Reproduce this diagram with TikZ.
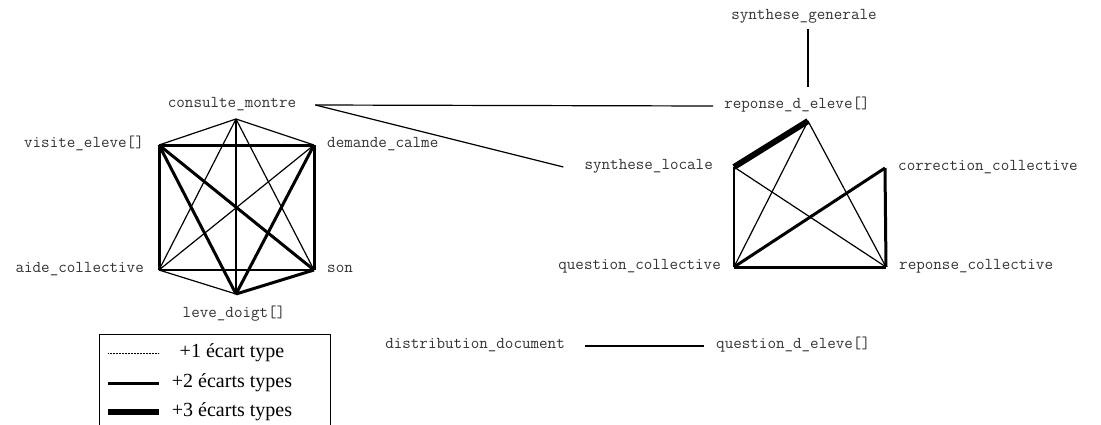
\documentclass[tikz,border=0pt]{standalone}
\usepackage{fontspec}
\setmainfont{Liberation Serif}
\usetikzlibrary{positioning}

\begin{document}
\begin{tikzpicture}[x=1pt,y=-1pt,
  lbl/.style={font=\ttfamily\fontsize{16.6}{19}\selectfont,text=black!80,text height=0.45em,text depth=0pt},
  leg/.style={font=\fontsize{20}{24}\selectfont},
  ecart1/.style={line width=1.2pt},
  ecart2/.style={line width=3pt},
  ecart3/.style={line width=6pt},
  line join=round]
\tikzstyle{every node}+=[inner sep=0pt]
\useasboundingbox (0,0) rectangle (1101,424);
% premier groupe
\coordinate (cmv) at (236,119);
\coordinate (vev) at (159,145);
\coordinate (dcv) at (314,145);
\coordinate (acv) at (159,270);
\coordinate (sov) at (314,270);
\coordinate (ldv) at (236,294);
\node [lbl] (cm) at (232,105) {consulte\_montre};
\node [lbl,left=15pt of vev] (ve) {visite\_eleve[]};
\node [lbl,right=13pt of dcv] (dc) {demande\_calme};
\node [lbl,left=15pt of acv] (ac) {aide\_collective};
\node [lbl,right=13pt of sov] (so) {son};
\node [lbl] (ld) at (234,315) {leve\_doigt[]};
\draw [ecart1] (cmv) -- (vev);
\draw [ecart1] (cmv) -- (dcv);
\draw [ecart1] (cmv) -- (acv);
\draw [ecart1] (cmv) -- (sov);
\draw [ecart1] (cmv) -- (ldv);
\draw [ecart1] (dcv) -- (acv);
\draw [ecart1] (acv) -- (sov);
\draw [ecart1] (acv) -- (ldv);
\draw [ecart2] (vev) -- (dcv);
\draw [ecart2] (vev) -- (acv);
\draw [ecart2] (vev) -- (sov);
\draw [ecart2] (vev) -- (ldv);
\draw [ecart2] (dcv) -- (sov);
\draw [ecart2] (dcv) -- (ldv);
\draw [ecart2] (sov) -- (ldv);
% second groupe
\coordinate (rdev) at (808,121);
\coordinate (slv) at (734,167);
\coordinate (ccv) at (885,168);
\coordinate (qcv) at (734,267);
\coordinate (rcv) at (886,267);
\node [lbl] (sg) at (804,17) {synthese\_generale};
\node [lbl] (rde) at (797,106) {reponse\_d\_eleve[]};
\node [lbl,left=21pt of slv] (sl) {synthese\_locale};
\node [lbl,right=13pt of ccv] (cc) {correction\_collective};
\node [lbl,left=13pt of qcv] (qc) {question\_collective};
\node [lbl,right=13pt of rcv] (rc) {reponse\_collective};
\draw [ecart3] (rdev) -- (slv);
\draw [ecart1] (rdev) -- (qcv);
\draw [ecart1] (rdev) -- (rcv);
\draw [ecart1] (slv) -- (qcv);
\draw [ecart1] (slv) -- (rcv);
\draw [ecart2] (ccv) -- (qcv);
\draw [ecart2] (ccv) -- (rcv);
\draw [ecart2] (qcv) -- (rcv);
% liens entre groupes
\coordinate (cmx) at ([xshift=19pt]cm.east);
\draw [ecart1] (cmx) -- ([xshift=-11pt]rde.west);
\draw [ecart1] (cmx) -- ([xshift=-21pt]sl.west);
\draw [ecart1] (rdev |- sg.south) ++(0,10) -- ++(0,58);
% troisieme groupe
\node [lbl,anchor=east] (dd) at (565,346) {distribution\_document};
\node [lbl,anchor=west] (qde) at (716,346) {question\_d\_eleve[]};
\draw [ecart1] ([xshift=20pt]dd.east) -- ([xshift=-12pt]qde.west);
% legende
\draw [line width=0.8pt] (99,430) -- (99,334) -- (330,334) -- (330,430);
\draw [line width=0.5pt,dash pattern=on 0.6pt off 0.9pt] (108,353) -- (159,353);
\draw [ecart2] (108,383) -- (159,383);
\draw [ecart3,line join=miter] (108,412) -- (159,412);
\node [leg] (l1) at (232,353) {+1 écart type};
\node [leg] (l2) at (232,383) {+2 écarts types};
\node [leg] (l3) at (232,412) {+3 écarts types};
\end{tikzpicture}
\end{document}
